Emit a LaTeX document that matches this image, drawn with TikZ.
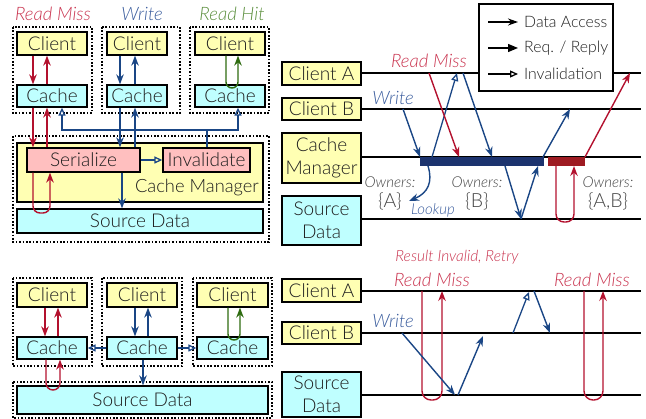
\documentclass[tikz,border=0pt]{standalone}
\usepackage{fontspec}
\setmainfont{Lato}[UprightFont={* Light},ItalicFont={* Light Italic}]
\usetikzlibrary{arrows.meta,calc}
\definecolor{ylw}{HTML}{FFFFB3}
\definecolor{cyn}{HTML}{BFFFFF}
\definecolor{pnk}{HTML}{FFBFBF}
\definecolor{rd}{HTML}{B3112E}
\definecolor{rdtxt}{HTML}{C9344F}
\definecolor{bl}{HTML}{1A4685}
\definecolor{bltxt}{HTML}{3C5E9E}
\definecolor{gr}{HTML}{2E6B10}
\definecolor{grtxt}{HTML}{5B8F3D}
\definecolor{navy}{HTML}{1C336E}
\definecolor{dred}{HTML}{9E1B22}
\definecolor{tx}{HTML}{1E1E1E}
\definecolor{gtx}{HTML}{444444}
\begin{document}
\begin{tikzpicture}[x=1pt,y=-1pt,
  font=\fontsize{19}{23}\selectfont,
  box/.style={draw, line width=1.3pt, inner sep=0pt, text=tx, align=center},
  dbox/.style={line width=1.4pt, dash pattern=on 1.7pt off 1.7pt},
  tip/.style={-{Stealth[length=10pt,width=7.5pt]}, line width=1.4pt},
  itip/.style={-{Triangle[open,length=8pt,width=7pt]}, line width=1.3pt},
  lbl/.style={font=\fontsize{18.5}{20}\selectfont\itshape},
  own/.style={font=\fontsize{15}{17}\selectfont\itshape, text=gtx},
  set/.style={font=\fontsize{19.5}{21}\selectfont, text=gtx},
  seqline/.style={line width=1.3pt}]
\useasboundingbox (0,0) rectangle (646,419);

% ================= upper left =================
\node[lbl,text=rdtxt] (t1) at (53,14) {Read Miss};
\node[lbl,text=bltxt] (t2) at (142,14) {Write};
\node[lbl,text=grtxt] (t3) at (232,14) {Read Hit};

\draw[dbox] (13,27) rectangle (92,113);
\draw[dbox] (102,27) rectangle (180,113);
\draw[dbox] (190,27) rectangle (269,113);
\draw[dbox] (13,136) rectangle (269,242);

\node[box,fill=ylw,minimum width=70pt,minimum height=23pt] (cl1) at (52,43.5) {Client};
\node[box,fill=cyn,minimum width=70pt,minimum height=22pt] (ca1) at (52,96) {Cache};
\node[box,fill=ylw,minimum width=60pt,minimum height=23pt] (cl2) at (137,43.5) {Client};
\node[box,fill=cyn,minimum width=60pt,minimum height=22pt] (ca2) at (137,96) {Cache};
\node[box,fill=ylw,minimum width=70pt,minimum height=23pt] (cl3) at (230,43.5) {Client};
\node[box,fill=cyn,minimum width=70pt,minimum height=22pt] (ca3) at (230,96) {Cache};

\node[box,fill=ylw,minimum width=246pt,minimum height=59pt] (cm) at (140,172.5) {};
\node[text=tx,font=\fontsize{18.3}{22}\selectfont] (cmt) at (197,188) {Cache Manager};
\node[box,fill=pnk,minimum width=113pt,minimum height=24pt] (ser) at (83.5,160) {Serialize};
\node[box,fill=pnk,minimum width=87pt,minimum height=24pt] (inv) at (206.5,160) {Invalidate};
\node[box,fill=cyn,minimum width=246pt,minimum height=24pt] (sd) at (140,221) {Source Data};

\coordinate (xa) at (33,0);
\coordinate (xb) at (47,0);
\coordinate (xl) at (50,0);
\coordinate (xc) at (120,0);
\coordinate (xd) at (135,0);
\coordinate (xe) at (122,0);
\coordinate (jn) at (207,130);

% read miss
\draw[rd,tip] ([xshift=-19pt]cl1.south) -- ([xshift=-19pt]ca1.north);
\draw[rd,tip] ([xshift=-5pt]ca1.north) -- ([xshift=-5pt]cl1.south);
\draw[rd,tip] ([xshift=-19pt]ca1.south) -- (ser.north -| xa);
\draw[rd,tip] (ser.north -| xb) -- ([xshift=-5pt]ca1.south);
\draw[rd,tip,rounded corners=7pt] (ser.south -| xa) -- (33,213) -- (50,213) -- (ser.south -| xl);
% write
\draw[bl,tip] ([xshift=-17pt]cl2.south) -- ([xshift=-17pt]ca2.north);
\draw[bl,tip] ([xshift=-2pt]ca2.north) -- ([xshift=-2pt]cl2.south);
\draw[bl,tip] ([xshift=-17pt]ca2.south) -- (ser.north -| xc);
\draw[bl,tip] (ser.north -| xd) -- ([xshift=-2pt]ca2.south);
\draw[bl,tip] (ser.south -| xe) -- (sd.north -| xe);
\draw[bl,itip] (ser.east) -- (inv.west);
\draw[bl,line width=1.3pt] (inv.north -| jn) -- (jn);
\draw[bl,itip] (jn) -| ([xshift=10pt]ca1.south);
\draw[bl,itip] (jn) -| ([xshift=8pt]ca3.south);
% read hit
\draw[gr,tip,rounded corners=6pt] ([xshift=-4pt]cl3.south) -- (226,88) -- (238,88) -- ([xshift=8pt]cl3.south);

% ================= upper right =================
\node[box,fill=ylw,minimum width=79pt,minimum height=23pt] (cA) at (321.5,73.5) {Client A};
\node[box,fill=ylw,minimum width=79pt,minimum height=22pt] (cB) at (321.5,109) {Client B};
\node[box,fill=ylw,minimum width=79pt,minimum height=50pt] (cM) at (321.5,158) {Cache\\Manager};
\node[box,fill=cyn,minimum width=79pt,minimum height=49pt] (cS) at (321.5,220.5) {Source\\Data};
\coordinate (eA) at (641,73);
\coordinate (eB) at (641,109);
\coordinate (eM) at (641,157);
\coordinate (eS) at (641,219);
\draw[seqline] (cA.east |- eA) -- (eA);
\draw[seqline] (cB.east |- eB) -- (eB);
\draw[seqline] (cM.east |- eM) -- (eM);
\draw[seqline] (cS.east |- eS) -- (eS);

% legend
\node[draw,line width=1.3pt,fill=white,minimum width=134pt,minimum height=87pt,inner sep=0pt] (leg) at (546,47.5) {};
\coordinate (l1a) at (488,22); \coordinate (l1b) at (518,22);
\coordinate (l2a) at (488,48); \coordinate (l2b) at (518,48);
\coordinate (l3a) at (488,74); \coordinate (l3b) at (518,74);
\draw[-{Stealth[length=10pt,width=7pt]},line width=1.3pt] (l1a) -- (l1b);
\draw[-{Triangle[length=10pt,width=8pt]},line width=1.3pt] (l2a) -- (l2b);
\draw[itip] (l3a) -- (l3b);
\begin{scope}[font=\fontsize{15.8}{18}\selectfont]
\node[anchor=west,text=tx,inner sep=0pt] (lt1) at (524,22) {Data Access};
\node[anchor=west,text=tx,inner sep=0pt] (lt2) at (524,48) {Req. / Reply};
\node[anchor=west,text=tx,inner sep=0pt] (lt3) at (524,74) {Invalidation};
\end{scope}

% bars
\node[fill=navy,inner sep=0pt,minimum width=124pt,minimum height=9pt,anchor=north west] (bar1) at (420,157) {};
\node[fill=dred,inner sep=0pt,minimum width=37pt,minimum height=9pt,anchor=north west] (bar2) at (548,157) {};

% labels
\node[lbl,text=bltxt] (w1) at (393,98) {Write};
\node[lbl,text=rdtxt] (rm1) at (429,61) {Read Miss};
\node[own] (o1) at (390,182) {Owners:};
\node[set] (s1) at (390,201) {\{A\}};
\node[own] (o2) at (477,182) {Owners:};
\node[set] (s2) at (477,201) {\{B\}};
\node[own] (o3) at (608,182) {Owners:};
\node[set] (s3) at (608,201) {\{A,B\}};
\node[own,text=bltxt] (lk) at (433,210) {Lookup};

% sequence arrows
\coordinate (p1) at (403,109); \coordinate (p2) at (420,157);
\coordinate (p3) at (432,157); \coordinate (p4) at (457,73);
\coordinate (p5) at (429,73);  \coordinate (p6) at (459,157);
\coordinate (p7) at (463,73);  \coordinate (p8) at (492,157);
\coordinate (p9) at (428,166); \coordinate (p10) at (409,201);
\coordinate (p11) at (505,166); \coordinate (p12) at (521,219);
\coordinate (p13) at (538,166);
\coordinate (p14) at (543,157); \coordinate (p15) at (570,109);
\coordinate (p16) at (556,166); \coordinate (p17) at (574,166);
\coordinate (p18) at (585,157); \coordinate (p19) at (630,73);
\draw[bl,tip] (p1) -- (p2);
\draw[bl,itip] (p3) -- (p4);
\draw[rd,tip] (p5) -- (p6);
\draw[bl,tip] (p7) -- (p8);
\draw[bl,tip] (p9) .. controls (433,182) and (428,193) .. (p10);
\draw[bl,tip] (p11) -- (p12);
\draw[bl,tip] (p12) -- (p13);
\draw[bl,tip] (p14) -- (p15);
\draw[rd,tip,rounded corners=8pt] (p16) -- (556,222) -- (574,222) -- (p17);
\draw[rd,tip] (p18) -- (p19);

% ================= lower left =================
\draw[dbox] (13,278) rectangle (92,366);
\draw[dbox] (102,278) rectangle (182,366);
\draw[dbox] (193,278) rectangle (272,366);
\draw[dbox] (13,382) rectangle (272,418);

\node[box,fill=ylw,minimum width=70pt,minimum height=24pt] (cl4) at (52,295) {Client};
\node[box,fill=cyn,minimum width=70pt,minimum height=22pt] (ca4) at (52,348) {Cache};
\node[box,fill=ylw,minimum width=70pt,minimum height=24pt] (cl5) at (142,295) {Client};
\node[box,fill=cyn,minimum width=70pt,minimum height=22pt] (ca5) at (142,348) {Cache};
\node[box,fill=ylw,minimum width=71pt,minimum height=24pt] (cl6) at (232.5,295) {Client};
\node[box,fill=cyn,minimum width=71pt,minimum height=22pt] (ca6) at (232.5,348) {Cache};
\node[box,fill=cyn,minimum width=251pt,minimum height=28pt] (sd4) at (142.5,400) {Source Data};

\draw[rd,tip] ([xshift=-7pt]cl4.south) -- ([xshift=-7pt]ca4.north);
\draw[rd,tip] ([xshift=6pt]ca4.north) -- ([xshift=6pt]cl4.south);
\draw[rd,tip,rounded corners=7pt] ([xshift=-6pt]ca4.south) -- (46,390) -- (60,390) -- ([xshift=8pt]ca4.south);
\draw[bl,tip] ([xshift=-7pt]cl5.south) -- ([xshift=-7pt]ca5.north);
\draw[bl,tip] ([xshift=6pt]ca5.north) -- ([xshift=6pt]cl5.south);
\draw[bl,itip] (ca5.west) -- (ca4.east);
\draw[bl,itip] (ca5.east) -- (ca6.west);
\coordinate (xf) at (143,0);
\draw[bl,tip] (ca5.south -| xf) -- (sd4.north -| xf);
\draw[gr,tip,rounded corners=6pt] ([xshift=-4.5pt]cl6.south) -- (228,340) -- (240,340) -- ([xshift=7.5pt]cl6.south);

% ================= lower right =================
\node[box,fill=ylw,minimum width=79pt,minimum height=23pt] (cA2) at (321.5,290.5) {Client A};
\node[box,fill=ylw,minimum width=79pt,minimum height=22pt] (cB2) at (321.5,333) {Client B};
\node[box,fill=cyn,minimum width=79pt,minimum height=45pt] (cS2) at (321.5,394.5) {Source\\Data};
\coordinate (fA) at (641,291);
\coordinate (fB) at (641,333);
\coordinate (fS) at (641,395);
\draw[seqline] (cA2.east |- fA) -- (fA);
\draw[seqline] (cB2.east |- fB) -- (fB);
\draw[seqline] (cS2.east |- fS) -- (fS);

\node[font=\fontsize{15.5}{17}\selectfont\itshape,text=rdtxt] (ri) at (457,257) {Result Invalid, Retry};
\node[lbl,text=rdtxt] (rm2) at (432,280) {Read Miss};
\node[lbl,text=rdtxt] (rm3) at (592,280) {Read Miss};
\node[lbl,text=bltxt] (w2) at (393,321) {Write};

\coordinate (q1) at (422,291); \coordinate (q2) at (442,291);
\coordinate (q3) at (584,291); \coordinate (q4) at (603,291);
\coordinate (q5) at (402,333); \coordinate (q6) at (455,395);
\coordinate (q7) at (458,395); \coordinate (q8) at (483,336);
\coordinate (q9) at (513,333); \coordinate (q10) at (529,292);
\coordinate (q11) at (534,291); \coordinate (q12) at (550,333);
\draw[rd,tip,rounded corners=9pt] (q1) -- (422,400) -- (442,400) -- (q2);
\draw[rd,tip,rounded corners=9pt] (q3) -- (584,400) -- (603,400) -- (q4);
\draw[bl,tip] (q5) -- (q6);
\draw[bl,tip] (q7) -- (q8);
\draw[bl,itip] (q9) -- (q10);
\draw[bl,tip] (q11) -- (q12);
\end{tikzpicture}
\end{document}
